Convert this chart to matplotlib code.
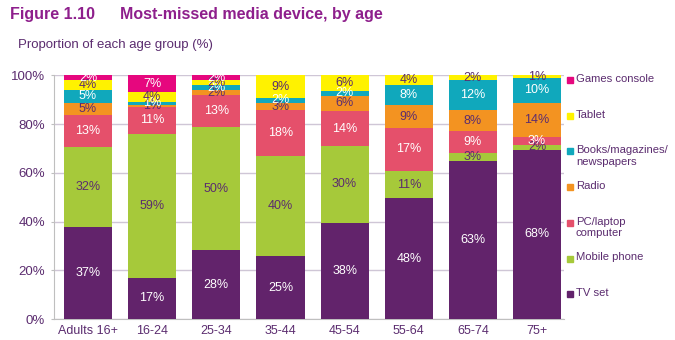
import matplotlib.pyplot as plt
from matplotlib.patches import Rectangle
import numpy as np

plt.rcParams['font.family'] = ['Liberation Sans', 'DejaVu Sans']

ages = ["Adults 16+", "16-24", "25-34", "35-44", "45-54", "55-64", "65-74", "75+"]
tv = [37, 17, 28, 25, 38, 48, 63, 68]
mobile = [32, 59, 50, 40, 30, 11, 3, 2]
pc = [13, 11, 13, 18, 14, 17, 9, 3]
radio = [5, 1, 2, 3, 6, 9, 8, 14]
books = [5, 1, 2, 2, 2, 8, 12, 10]
tablet = [4, 4, 2, 9, 6, 4, 2, 1]
games = [2, 7, 2, 0, 0, 0, 0, 0]

names = ["TV set", "Mobile phone", "PC/laptop\ncomputer", "Radio",
         "Books/magazines/\nnewspapers", "Tablet", "Games console"]
colors = ["#62236B", "#A6C93A", "#E5506B", "#F39321", "#10A8BC", "#FFF200", "#E6077E"]
label_colors = ["white", "#5B2C6F", "white", "#5B2C6F", "white", "#5B2C6F", "white"]
series = [tv, mobile, pc, radio, books, tablet, games]

purple = "#5B2C6F"

fig = plt.figure(figsize=(6.75, 3.4), dpi=100)
ax = fig.add_axes([54 / 675, 1 - 319 / 340, 510 / 675, 243.7 / 340])

x = np.arange(len(ages))
data = np.array(series, dtype=float)
# 100% stacked, like the original spreadsheet chart
share = data / data.sum(axis=0) * 100
base = np.zeros(len(ages))
for i in range(len(series)):
    ax.bar(x, share[i], 0.75, bottom=base, color=colors[i], zorder=3)
    for j in range(len(ages)):
        if data[i][j] > 0:
            ax.text(x[j], base[j] + share[i][j] / 2, "%d%%" % data[i][j],
                    ha="center", va="center", fontsize=9,
                    color=label_colors[i], zorder=4)
    base += share[i]

ax.set_xlim(-0.53, 7.42)
ax.set_ylim(0, 100)
ax.set_yticks(range(0, 101, 20))
ax.set_yticklabels(["%d%%" % v for v in range(0, 101, 20)])
ax.set_xticks(x)
ax.set_xticklabels(ages)
ax.tick_params(axis="y", colors="#BFBFBF", labelcolor=purple, labelsize=9.5,
               length=2.5, pad=4)
ax.tick_params(axis="x", length=0, labelcolor=purple, labelsize=9, pad=4)
ax.grid(axis="y", color="#CFC6D6", linewidth=1, zorder=0)
for s in ["top", "right"]:
    ax.spines[s].set_visible(False)
ax.spines["left"].set_color("#BFBFBF")
ax.spines["bottom"].set_color("#BFBFBF")

# legend drawn by hand so two-line labels keep an even step
for k in range(len(names)):
    i = len(names) - 1 - k
    yc = 1 - (80 + k * 35.7) / 340
    fig.patches.append(Rectangle((567 / 675, yc - 3 / 340), 6 / 675, 6 / 340,
                                 transform=fig.transFigure, color=colors[i]))
    fig.text(576 / 675, yc + 6 / 340, names[i], ha="left", va="top",
             fontsize=8.1, color=purple, linespacing=1.15)

fig.text(10 / 675, 1 - 15 / 340, "Figure 1.10", fontsize=11.5, fontweight="bold",
         color="#8E1F8C", va="center")
fig.text(120 / 675, 1 - 15 / 340, "Most-missed media device, by age", fontsize=11.5,
         fontweight="bold", color="#8E1F8C", va="center")
fig.text(18 / 675, 1 - 45 / 340, "Proportion of each age group (%)", fontsize=9.5,
         color=purple, va="center")

fig.savefig("out.png", dpi=100)
